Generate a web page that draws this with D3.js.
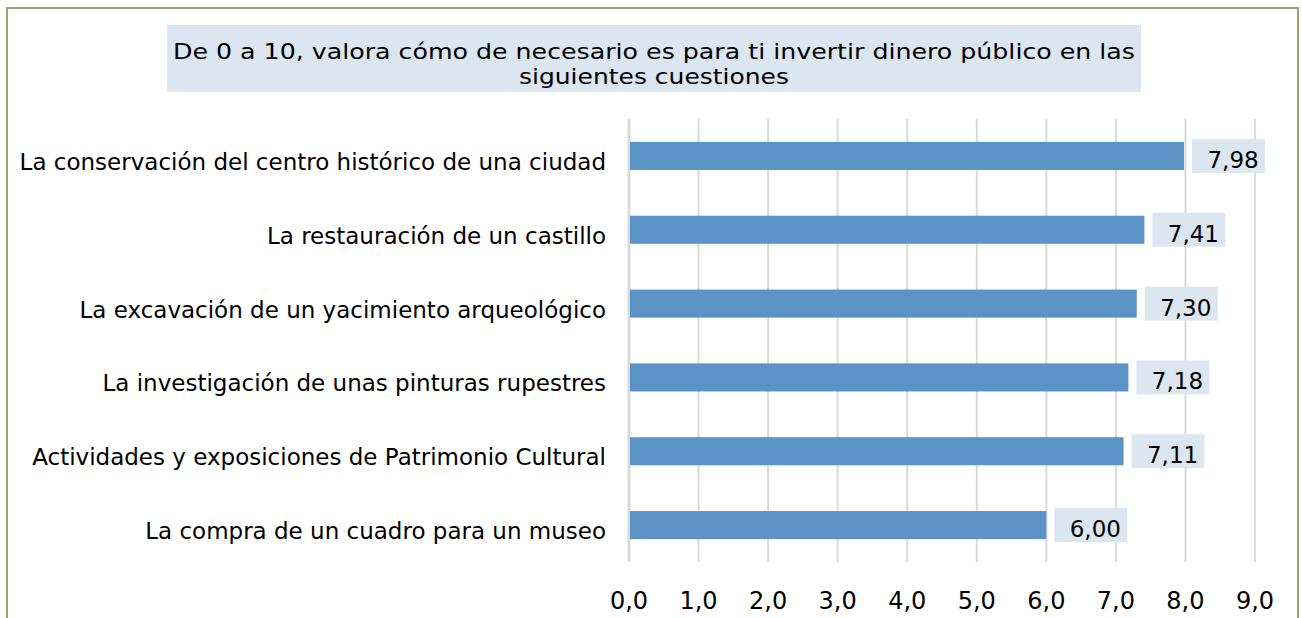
<!DOCTYPE html>
<html>
<head>
<meta charset="utf-8">
<script src="https://cdn.jsdelivr.net/npm/d3@7"></script>
<style>
  body { margin: 0; background: #fff; }
  text { font-family: "DejaVu Sans", Verdana, sans-serif; fill: #000; }
</style>
</head>
<body>
<script>
// datos de la encuesta
const categorias = [
  "La conservación del centro histórico de una ciudad",
  "La restauración de un castillo",
  "La excavación de un yacimiento arqueológico",
  "La investigación de unas pinturas rupestres",
  "Actividades y exposiciones de Patrimonio Cultural",
  "La compra de un cuadro para un museo"
];
const valores = [7.98, 7.41, 7.30, 7.18, 7.11, 6.00];
const ticks = [0, 1, 2, 3, 4, 5, 6, 7, 8, 9];
const tituloLineas = [
  "De 0 a 10, valora cómo de necesario es para ti invertir dinero público en las",
  "siguientes cuestiones"
];
const tituloAnchos = [962, 270];

const W = 1302, H = 618;
const svg = d3.select("body").append("svg").attr("width", W).attr("height", H);

// marco
svg.append("rect")
  .attr("x", 7).attr("y", 8)
  .attr("width", 1291).attr("height", 640)
  .attr("fill", "none")
  .attr("stroke", "#a29e72")
  .attr("stroke-width", 2);

// titulo
svg.append("rect")
  .attr("x", 167).attr("y", 25)
  .attr("width", 974).attr("height", 67)
  .attr("fill", "#dce6f0");

svg.append("g").selectAll("text")
  .data(tituloLineas)
  .join("text")
  .attr("x", 654)
  .attr("y", (d, i) => 59 + i * 25)
  .attr("text-anchor", "middle")
  .attr("font-size", 22)
  .attr("textLength", (d, i) => tituloAnchos[i])
  .attr("lengthAdjust", "spacingAndGlyphs")
  .text(d => d);

let x = d3.scaleLinear().domain([0, 9]).range([629, 1255]);
let y = d3.scaleBand().domain(categorias).range([119, 562]).paddingInner(0.62).paddingOuter(0.31);

// rejilla
svg.append("g").selectAll("line")
  .data(ticks)
  .join("line")
  .attr("x1", d => x(d)).attr("x2", d => x(d))
  .attr("y1", 119).attr("y2", 562)
  .attr("stroke", "#d9d9d9")
  .attr("stroke-width", d => d == 0 ? 3 : 2);

// barras
svg.append("g").selectAll("rect")
  .data(valores)
  .join("rect")
  .attr("x", x(0) + 1)
  .attr("y", (d, i) => y(categorias[i]))
  .attr("width", d => x(d) - x(0) - 1)
  .attr("height", y.bandwidth())
  .attr("fill", "#5b93c7");

// etiquetas de valor
const etq = svg.append("g").selectAll("g")
  .data(valores)
  .join("g")
  .attr("transform", (d, i) => `translate(${x(d) + 8},${y(categorias[i]) + y.bandwidth() / 2})`);

etq.append("rect")
  .attr("x", 0).attr("y", -17)
  .attr("width", 73).attr("height", 34)
  .attr("fill", "#dce6f0");

etq.append("text")
  .attr("x", 41).attr("y", 12)
  .attr("text-anchor", "middle")
  .attr("font-size", 23)
  .text(d => d3.format(".2f")(d).replace(".", ","));

// categorias
svg.append("g").selectAll("text")
  .data(categorias)
  .join("text")
  .attr("x", 606)
  .attr("y", d => y(d) + y.bandwidth() / 2 + 14)
  .attr("text-anchor", "end")
  .attr("font-size", 23)
  .text(d => d);

// eje x
svg.append("g").selectAll("text")
  .data(ticks)
  .join("text")
  .attr("x", d => x(d))
  .attr("y", 609)
  .attr("text-anchor", "middle")
  .attr("font-size", 24)
  .text(d => d3.format(".1f")(d).replace(".", ","));
</script>
</body>
</html>
